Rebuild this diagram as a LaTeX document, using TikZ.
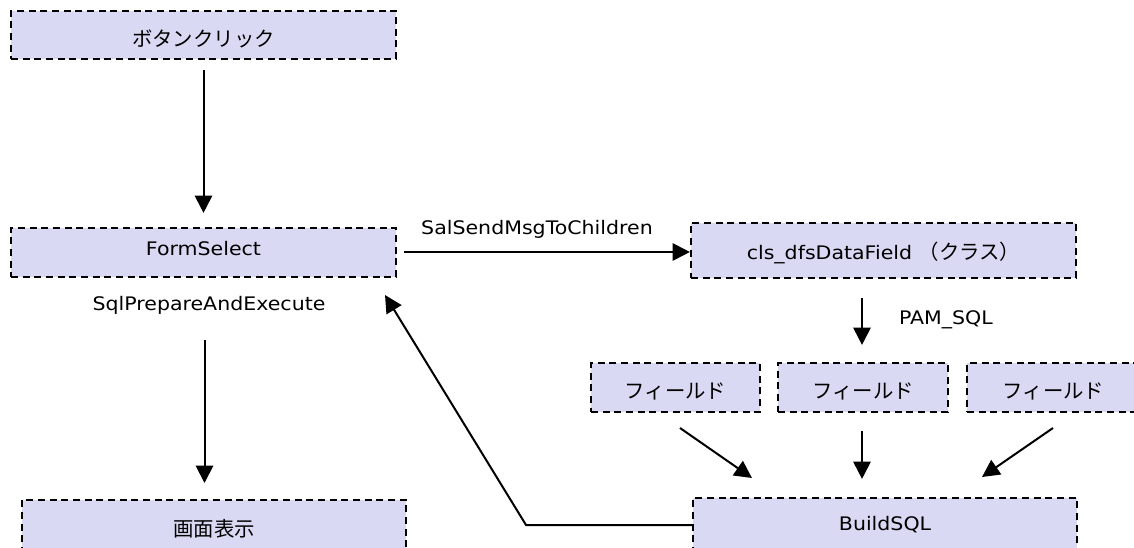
\documentclass[tikz,border=0pt]{standalone}
\usepackage{fontspec}
\setmainfont{DejaVu Sans}[FakeStretch=1.1]
\newfontfamily\jp{Noto Sans CJK JP}
\usetikzlibrary{arrows.meta}
\definecolor{boxfill}{RGB}{218,217,243}
\newcommand\lat{\fontsize{14}{16}\selectfont}
\newcommand\kana{\jp\fontsize{15.3}{17}\selectfont}
% set text with its baseline at the given offset from the node centre
\newcommand\baseat[2]{\raisebox{#1}[0pt][0pt]{#2}}
\begin{document}
\begin{tikzpicture}[x=0.75pt,y=-0.75pt,
  flowbox/.style={draw=black, fill=boxfill, line width=1.6pt,
    dash pattern=on 5.25pt off 3.5pt, inner sep=0pt},
  arr/.style={line width=1.5pt, -{Triangle[length=13pt,width=13pt]}},
  lbl/.style={inner sep=0pt}]

% page area
\useasboundingbox (0,0) rectangle (1134,548);
\fill[white] (0,0) rectangle (1134,548);
\clip (0,0) rectangle (1134,548);

% boxes
\node[flowbox, minimum width=288.75pt, minimum height=36pt] (click) at (203.5,35)
  {\baseat{-9pt}{\kana ボタンクリック}};
\node[flowbox, minimum width=288.75pt, minimum height=36.75pt] (form) at (203.5,252.5)
  {\baseat{-1.9pt}{\lat FormSelect}};
\node[flowbox, minimum width=288pt, minimum height=45pt] (disp) at (214,530)
  {\baseat{-4.5pt}{\kana 画面表示}};
\node[flowbox, minimum width=288.75pt, minimum height=41.25pt] (cls) at (883.5,250.5)
  {\baseat{-6.4pt}{\lat cls\_dfsDataField {\kana （クラス）}}};
\node[flowbox, minimum width=126.75pt, minimum height=36.75pt] (f1) at (675.5,387.5)
  {\baseat{-8.6pt}{\kana フィールド}};
\node[flowbox, minimum width=127.5pt, minimum height=36.75pt] (f2) at (863,387.5)
  {\baseat{-8.6pt}{\kana フィールド}};
\node[flowbox, minimum width=129.75pt, minimum height=36.75pt] (f3) at (1053.5,387.5)
  {\baseat{-8.6pt}{\kana フィールド}};
\node[flowbox, minimum width=288pt, minimum height=43.5pt] (build) at (885,527)
  {\baseat{-2.25pt}{\lat BuildSQL}};

% label under FormSelect
\node[lbl, anchor=base] (sqlp) at (209,311) {\lat SqlPrepareAndExecute};

% connectors
\draw[arr] ([yshift=-7.5pt]click.south) -- ([yshift=10.5pt]form.north);
\draw[arr] (204.5,340) coordinate (dispin) -- (dispin |- 0,483);
\draw[arr] ([xshift=5.25pt]form.east |- 0,252) -- (cls.west |- 0,252)
  node[lbl, pos=0.465, anchor=base, yshift=12.75pt] (salsend) {\lat SalSendMsgToChildren};
\coordinate (pamtop) at (862,298);
\draw[arr] (pamtop) -- ([yshift=12.75pt]f2.north -| pamtop)
  node[lbl, pos=0.5625, anchor=base west, xshift=27pt] (pam) {\lat PAM\_SQL};
\draw[arr] (680,428) coordinate (f1out) -- (752,478) coordinate (b1in);
\draw[arr] ([yshift=-13.5pt]f2.south -| pamtop) -- ([yshift=13.5pt]build.north -| pamtop);
\draw[arr] (1053,428) coordinate (f3out) -- (982,477) coordinate (b3in);
\draw[arr] (build.west |- 0,525) -- (526,525) -- (385,295);
\end{tikzpicture}
\end{document}
